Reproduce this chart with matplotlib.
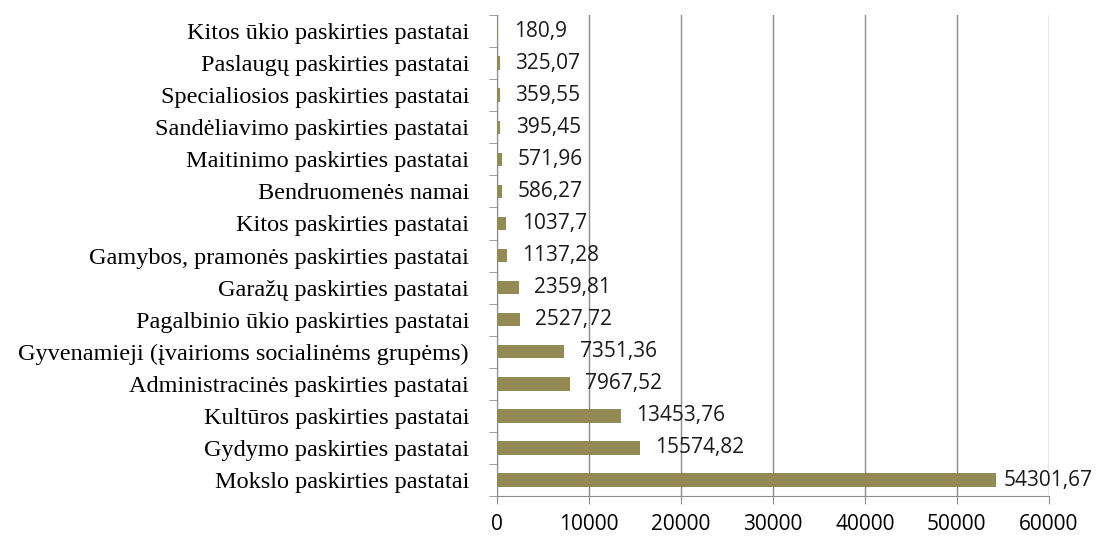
import matplotlib
matplotlib.use('Agg')
import matplotlib.pyplot as plt
import numpy as np

# data, bottom to top as in the chart
categories = ['Mokslo paskirties pastatai',
              'Gydymo paskirties pastatai',
              'Kultūros paskirties pastatai',
              'Administracinės paskirties pastatai',
              'Gyvenamieji (įvairioms socialinėms grupėms)',
              'Pagalbinio ūkio paskirties pastatai',
              'Garažų paskirties pastatai',
              'Gamybos, pramonės paskirties pastatai',
              'Kitos paskirties pastatai',
              'Bendruomenės namai',
              'Maitinimo paskirties pastatai',
              'Sandėliavimo paskirties pastatai',
              'Specialiosios paskirties pastatai',
              'Paslaugų paskirties pastatai',
              'Kitos ūkio paskirties pastatai']
values = [54301.67, 15574.82, 13453.76, 7967.52, 7351.36, 2527.72, 2359.81,
          1137.28, 1037.7, 586.27, 571.96, 395.45, 359.55, 325.07, 180.9]
x_ticks = [0, 10000, 20000, 30000, 40000, 50000, 60000]

def fmt(v):
    s = ('%.2f' % v).rstrip('0').rstrip('.')
    return s.replace('.', ',')

fig = plt.figure(figsize=(11.04, 5.38), dpi=100)
ax = fig.add_axes([0.450, 0.078, 0.500, 0.894])

y = np.arange(len(categories))
ax.barh(y, values, height=0.42, color='#948A54', zorder=3)

for yi, v in zip(y, values):
    off = 5 if v == max(values) else 11
    ax.annotate(fmt(v), (v, yi), xytext=(off, 0), textcoords='offset points',
                va='center', ha='left', fontsize=15, family='Open Sans',
                color='#1a1a1a', zorder=4)

ax.set_xlim(0, 60000)
ax.set_ylim(-0.5, len(categories) - 0.5)
ax.set_xticks(x_ticks)
ax.set_xticklabels([str(t) for t in x_ticks], family='Open Sans', fontsize=15)
ax.set_yticks(y)
ax.set_yticklabels(categories, family='Liberation Serif', fontsize=17.5)
ax.tick_params(axis='y', length=0, pad=20)
ax.set_yticks(np.arange(-0.5, len(categories), 1), minor=True)
ax.tick_params(axis='y', which='minor', length=6, color='#8c8c8c')
ax.tick_params(axis='x', length=6, color='#8c8c8c', pad=7)

ax.grid(axis='x', color='#8c8c8c', linewidth=1, zorder=0)
for side in ['top', 'right']:
    ax.spines[side].set_visible(False)
for side in ['left', 'bottom']:
    ax.spines[side].set_color('#8c8c8c')

fig.savefig('out.png', dpi=100)
